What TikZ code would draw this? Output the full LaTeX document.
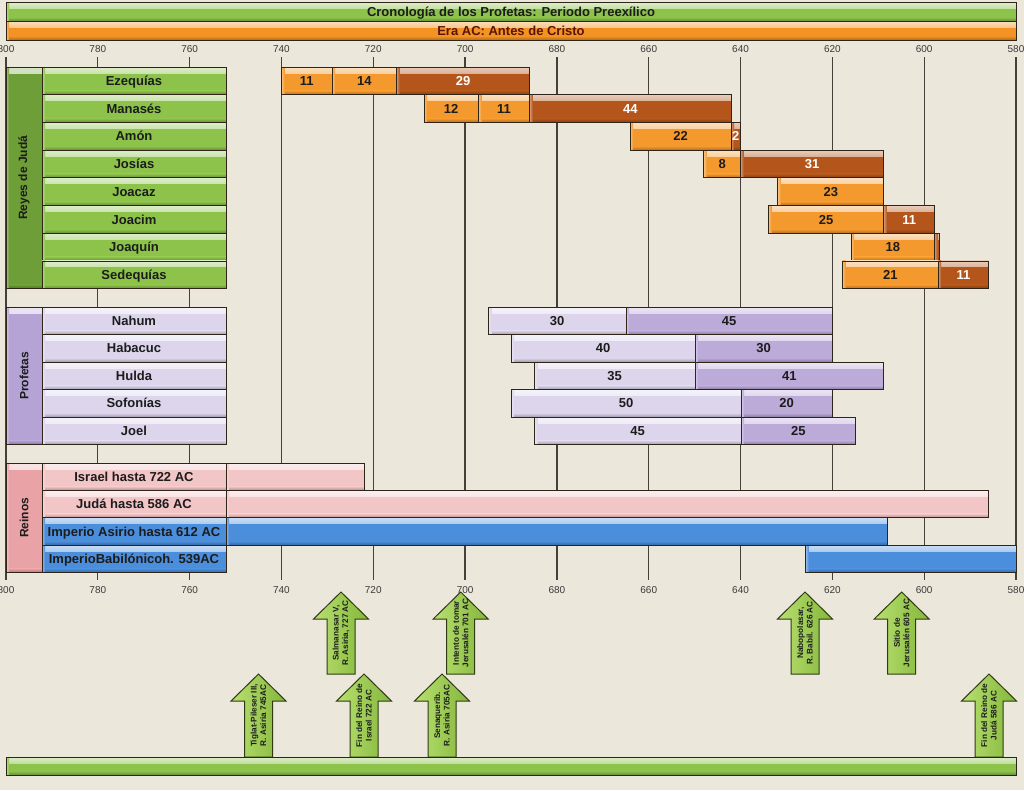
\documentclass[tikz,border=0pt]{standalone}
\usepackage{fontspec}
\setmainfont{Liberation Sans}
\usepackage{graphicx}
\definecolor{bgc}{HTML}{ECE7DB}
\definecolor{gridc}{HTML}{45403A}
\definecolor{grn}{HTML}{8DC24B}
\definecolor{grndk}{HTML}{6E9E38}
\definecolor{orgt}{HTML}{F39324}
\definecolor{orl}{HTML}{F4992E}
\definecolor{ord}{HTML}{B4561B}
\definecolor{lavl}{HTML}{DCD5EC}
\definecolor{lavd}{HTML}{BCAAD9}
\definecolor{lavg}{HTML}{B6A3D5}
\definecolor{pinkl}{HTML}{F2C5C7}
\definecolor{pinkg}{HTML}{E9A2A5}
\definecolor{blu}{HTML}{4B8EDB}
\definecolor{edge}{HTML}{2E2418}
\definecolor{txt}{HTML}{1C1C1C}
\definecolor{txtbr}{HTML}{5A1405}
\definecolor{axc}{HTML}{3A3A3A}
\definecolor{arrl}{HTML}{B8E070}
\definecolor{arrr}{HTML}{84B63C}
\definecolor{arre}{HTML}{2F3A12}
\newcommand\tb[7]{\node[box=#5, minimum width={#3-#2}, text=#6] (#1) at ({(#2+#3)/2},#4) {#7};}
\newcommand\evarrow[5]{%
  \draw[arr] (#2,#3) -- ({#2+27.5},{#3+27}) -- ({#2+14},{#3+27}) -- ({#2+14},#4) -- ({#2-14},#4) -- ({#2-14},{#3+27}) -- ({#2-27.5},{#3+27}) -- cycle;
  \node[arrtxt] (#1) at (#2,{(#3+#4)/2}) {#5};}
\begin{document}
\begin{tikzpicture}[x=1pt,y=-1pt,
  box/.style={draw=edge, line width=0.8pt, inner sep=0pt, outer sep=0pt, fill=#1,
    path picture={
      \shade[top color=#1!30!white, bottom color=#1] (path picture bounding box.north west) rectangle ([yshift=-6pt]path picture bounding box.north east);
      \shade[top color=#1, bottom color=#1!72!black] ([yshift=4pt]path picture bounding box.south west) rectangle (path picture bounding box.south east);
      \shade[left color=#1!60!white, right color=#1] (path picture bounding box.north west) rectangle ([xshift=3pt]path picture bounding box.south west);
    },
    font=\bfseries\fontsize{13}{15}\selectfont, text=txt, text height=9.4pt, text depth=0pt},
  gridline/.style={draw=gridc, line width=1.2pt},
  axl/.style={font=\fontsize{10}{12}\selectfont, text=axc, inner sep=0pt},
  arr/.style={draw=arre, line width=1pt, line join=miter, left color=arrl, right color=arrr},
  arrtxt/.style={rotate=90, align=center, font=\bfseries\fontsize{8.2}{9.5}\selectfont, text=txt, inner sep=0pt},
  grp/.style={box=#1, minimum width=36, font=\bfseries\fontsize{12}{14}\selectfont, text height={}, text depth={}}
]
\useasboundingbox (0,0) rectangle (1024,790);
\fill[bgc] (0,0) rectangle (1024,790);

% axis grid and labels
\foreach \yr [count=\i from 0] in {800,780,...,580} {
  \pgfmathsetmacro\xx{6+\i*91.818}
  \draw[gridline] (\xx,57) -- (\xx,580);
  \node[axl] (top\yr) at (\xx,49) {\yr};
  \node[axl] (bot\yr) at (\xx,590) {\yr};
}

% titles
\node[box=grn, minimum width=1010, minimum height=18.5] (title) at (511,12) {Cronología de los Profetas: Periodo Preexílico};
\node[box=orgt, minimum width=1010, minimum height=19, text=txtbr] (era) at (511,30.5) {Era AC: Antes de Cristo};

% Reyes de Juda
\node[grp=grndk, minimum height=221.6] (reyes) at (24,177.8) {\rotatebox{90}{Reyes de Judá}};
\begin{scope}[every node/.append style={minimum height=27.7}]
\tb{lez}{42}{226}{80.85}{grn}{txt}{Ezequías}
\tb{lma}{42}{226}{108.55}{grn}{txt}{Manasés}
\tb{lam}{42}{226}{136.25}{grn}{txt}{Amón}
\tb{ljo}{42}{226}{163.95}{grn}{txt}{Josías}
\tb{ljz}{42}{226}{191.65}{grn}{txt}{Joacaz}
\tb{ljc}{42}{226}{219.35}{grn}{txt}{Joacim}
\tb{ljq}{42}{226}{247.05}{grn}{txt}{Joaquín}
\tb{lse}{42}{226}{274.75}{grn}{txt}{Sedequías}
% bars
\tb{e1}{281.4}{332}{80.85}{orl}{txt}{11}
\tb{e2}{332}{396.5}{80.85}{orl}{txt}{14}
\tb{e3}{396.5}{529.5}{80.85}{ord}{white}{29}
\tb{m1}{424}{478.3}{108.55}{orl}{txt}{12}
\tb{m2}{478.3}{529.7}{108.55}{orl}{txt}{11}
\tb{m3}{529.7}{731}{108.55}{ord}{white}{44}
\tb{a1}{630}{731}{136.25}{orl}{txt}{22}
\tb{a2}{731}{740.6}{136.25}{ord}{white}{2}
\tb{j1}{703.7}{740.6}{163.95}{orl}{txt}{8}
\tb{j2}{740.6}{883.8}{163.95}{ord}{white}{31}
\tb{jz}{777.7}{883.8}{191.65}{orl}{txt}{23}
\tb{jc1}{768.3}{883.8}{219.35}{orl}{txt}{25}
\tb{jc2}{883.8}{934.5}{219.35}{ord}{white}{11}
\tb{jq1}{851}{934.5}{247.05}{orl}{txt}{18}
\tb{jq2}{934.5}{939}{247.05}{ord}{white}{}
\tb{s1}{842.3}{938.2}{274.75}{orl}{txt}{21}
\tb{s2}{938.2}{988.8}{274.75}{ord}{white}{11}
\end{scope}

% Profetas
\node[grp=lavg, minimum height=137.5] (prof) at (24,375.75) {\rotatebox{90}{Profetas}};
\begin{scope}[every node/.append style={minimum height=27.5}]
\tb{lna}{42}{226}{320.75}{lavl}{txt}{Nahum}
\tb{lha}{42}{226}{348.25}{lavl}{txt}{Habacuc}
\tb{lhu}{42}{226}{375.75}{lavl}{txt}{Hulda}
\tb{lso}{42}{226}{403.25}{lavl}{txt}{Sofonías}
\tb{ljl}{42}{226}{430.75}{lavl}{txt}{Joel}
\tb{n1}{488.3}{626}{320.75}{lavl}{txt}{30}
\tb{n2}{626}{832.3}{320.75}{lavd}{txt}{45}
\tb{h1}{511}{695}{348.25}{lavl}{txt}{40}
\tb{h2}{695}{832.3}{348.25}{lavd}{txt}{30}
\tb{hu1}{534.3}{695}{375.75}{lavl}{txt}{35}
\tb{hu2}{695}{883.8}{375.75}{lavd}{txt}{41}
\tb{so1}{511}{741}{403.25}{lavl}{txt}{50}
\tb{so2}{741}{832.3}{403.25}{lavd}{txt}{20}
\tb{jo1}{534.3}{741}{430.75}{lavl}{txt}{45}
\tb{jo2}{741}{855.5}{430.75}{lavd}{txt}{25}
\end{scope}

% Reinos
\node[grp=pinkg, minimum height=109.6] (reinos) at (24,517.8) {\rotatebox{90}{Reinos}};
\begin{scope}[every node/.append style={minimum height=27.4}]
\tb{lis}{42}{226}{476.7}{pinkl}{txt}{Israel hasta 722 AC}
\tb{lju}{42}{226}{504.1}{pinkl}{txt}{Judá hasta 586 AC}
\tb{las}{42}{226}{531.5}{blu}{txt}{Imperio Asirio hasta 612 AC}
\tb{lba}{42}{226}{558.9}{blu}{txt}{ImperioBabilónicoh. 539AC}
\tb{ri}{226}{364}{476.7}{pinkl}{txt}{}
\tb{rj}{226}{988.5}{504.1}{pinkl}{txt}{}
\tb{ra}{226}{887.3}{531.5}{blu}{txt}{}
\tb{rb}{805.7}{1016}{558.9}{blu}{txt}{}
\end{scope}

% event arrows
\evarrow{ev1}{258.5}{674}{757}{Tiglat-Pileser III,\\R. Asiria 745AC}
\evarrow{ev2}{341}{592}{674}{Salmanasar V,\\R. Asiria, 727 AC}
\evarrow{ev3}{364}{674}{757}{Fin del Reino de\\Israel 722 AC}
\evarrow{ev4}{460.7}{592}{674}{Intento de tomar\\Jerusalén 701 AC}
\evarrow{ev5}{442}{674}{757}{Senaquerib.\\R. Asiria 705AC}
\evarrow{ev6}{805}{592}{674}{Nabopolasar,\\R. Babil. 626 AC}
\evarrow{ev7}{901.7}{592}{674}{Sitio de\\Jerusalén 605 AC}
\evarrow{ev8}{989}{674}{757}{Fin del Reino de\\Judá 586 AC}

% bottom bar
\node[box=grn, minimum width=1010, minimum height=18] (base) at (511,766) {};
\end{tikzpicture}
\end{document}
